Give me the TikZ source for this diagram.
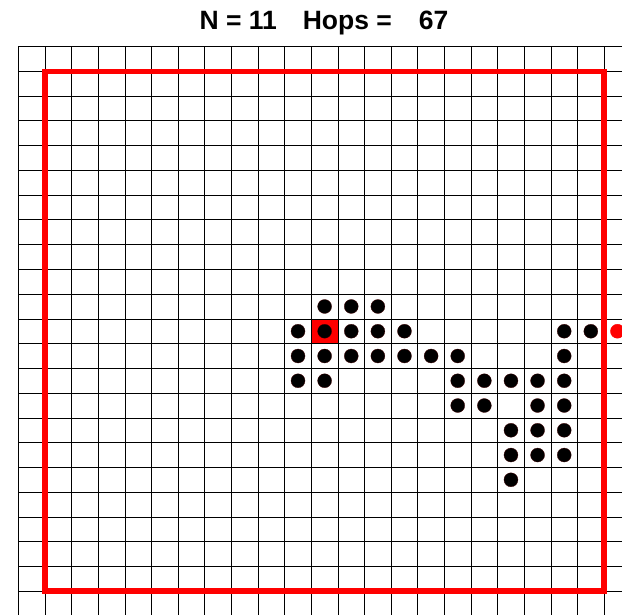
\documentclass[tikz,border=0pt]{standalone}
\usepackage{fontspec}
\setmainfont{Liberation Sans}
\begin{document}
\begin{tikzpicture}[x=1pt,y=-1pt,
  gridline/.style={black,line width=0.7pt},
  boundary/.style={red,line width=5.5pt,line join=miter},
  agent/.style={circle,fill=black,draw=black!75!red,line width=0.3pt,minimum size=14pt,inner sep=0pt},
  target/.style={circle,fill=red,draw=red,minimum size=14pt,inner sep=0pt},
  titletext/.style={font=\fontsize{26.5}{31}\selectfont\bfseries,inner sep=0pt}]
\useasboundingbox (0,0) rectangle (622,615);
\def\gx{26.62}
\def\gy{24.76}
\def\ox{18.5}
\def\oy{46.5}
\begin{scope}
\clip (0,0) rectangle (622,615);
% highlighted cell
\fill[red] ({\ox+11*\gx},{\oy+11*\gy}) rectangle ({\ox+12*\gx},{\oy+12*\gy});
% grid
\foreach \i in {0,...,23} \draw[gridline] ({\ox+\i*\gx},\oy) -- ({\ox+\i*\gx},620);
\foreach \j in {0,...,23} \draw[gridline] (\ox,{\oy+\j*\gy}) -- (625,{\oy+\j*\gy});
% boundary
\draw[boundary] ({\ox+\gx},{\oy+\gy}) rectangle ({\ox+22*\gx},{\oy+22*\gy});
% agents
\foreach \c/\r in {11/10,12/10,13/10,
  10/11,11/11,12/11,13/11,14/11,20/11,21/11,
  10/12,11/12,12/12,13/12,14/12,15/12,16/12,20/12,
  10/13,11/13,16/13,17/13,18/13,19/13,20/13,
  16/14,17/14,19/14,20/14,
  18/15,19/15,20/15,
  18/16,19/16,20/16,
  18/17}
  \node[agent] (d-\c-\r) at ({\ox+(\c+0.5)*\gx},{\oy+(\r+0.5)*\gy}) {};
\node[target] (goal) at ({\ox+22.5*\gx},{\oy+11.5*\gy}) {};
\end{scope}
\node[titletext,anchor=base] (title) at (324,30) {N = 11\hspace{26pt}Hops =\hspace{27pt}67};
\end{tikzpicture}
\end{document}
